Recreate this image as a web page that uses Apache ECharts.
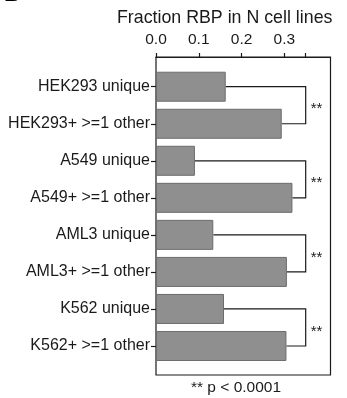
<!DOCTYPE html>
<html>
<head>
<meta charset="utf-8">
<script src="https://cdn.jsdelivr.net/npm/echarts@6/dist/echarts.min.js"></script>
<style>
html,body{margin:0;padding:0;background:#fff;}
#main{width:347px;height:398px;}
</style>
</head>
<body>
<div id="main"></div>
<script>
var categories = ['HEK293 unique', 'HEK293+ >=1 other', 'A549 unique', 'A549+ >=1 other',
	'AML3 unique', 'AML3+ >=1 other', 'K562 unique', 'K562+ >=1 other'];
var fractions = [0.163, 0.294, 0.091, 0.319, 0.134, 0.306, 0.159, 0.305];
var tickLabels = [0, 0.1, 0.2, 0.3];
var tickMarks = [0, 0.1, 0.2, 0.3, 0.35];
// pairs compared: [unique row, other row]
var pairs = [[0, 1], [2, 3], [4, 5], [6, 7]];
var bracketX = 0.35;
var sigLabel = '**';
var xMax = 0.408;

var fontFam = '"Liberation Sans", Arial, sans-serif';
var txt = '#1a1a1a';

var myChart = echarts.init(document.getElementById('main'));

var bracketData = pairs.map(function(p) {
	return [fractions[p[0]], fractions[p[1]], p[0], p[1]];
});

var option = {
	animation: false,
	title: [{
		text: 'Fraction RBP in N cell lines',
		left: 117, top: 9, padding: 0,
		textStyle: {fontSize: 17.8, fontWeight: 'normal', color: txt, fontFamily: fontFam}
	}, {
		text: '** p < 0.0001',
		left: 191, top: 380, padding: 0,
		textStyle: {fontSize: 15.5, fontWeight: 'normal', color: txt, fontFamily: fontFam}
	}],
	graphic: [{
		type: 'text', left: 4, top: -17,
		style: {text: 'B', font: 'bold 23px ' + fontFam, fill: '#000'}
	}],
	grid: [
		{left: 156, right: 16.5, top: 68.2, bottom: 33.5},
		{left: 156, right: 16.5, top: 57, bottom: 23, show: true,
			borderColor: '#1a1a1a', borderWidth: 1.2, backgroundColor: 'transparent'}
	],
	xAxis: [{
		gridIndex: 0, type: 'value', min: 0, max: xMax, show: false
	}, {
		gridIndex: 1, type: 'value', min: 0, max: xMax, position: 'top',
		axisLine: {show: true, onZero: false, lineStyle: {color: '#1a1a1a', width: 1.2}},
		splitLine: {show: false},
		axisTick: {show: true, length: 4, customValues: tickMarks,
			lineStyle: {color: '#1a1a1a', width: 1.2}},
		axisLabel: {customValues: tickLabels, margin: 9, fontSize: 15.5, color: txt, fontFamily: fontFam,
			formatter: function(v) { return v.toFixed(1); }}
	}],
	yAxis: [{
		gridIndex: 0, type: 'category', data: categories, inverse: true,
		axisLine: {show: false},
		axisTick: {show: true, alignWithLabel: true, length: 5,
			lineStyle: {color: '#1a1a1a', width: 1.2}},
		axisLabel: {margin: 6, fontSize: 16, color: txt, fontFamily: fontFam}
	}, {
		gridIndex: 1, type: 'value', show: false
	}],
	series: [{
		type: 'bar',
		xAxisIndex: 0, yAxisIndex: 0,
		data: fractions,
		barWidth: 30,
		itemStyle: {color: '#8f8f8f', borderColor: '#6c6c6c', borderWidth: 1}
	}, {
		type: 'custom',
		xAxisIndex: 0, yAxisIndex: 0,
		data: bracketData,
		encode: {x: [0, 1], y: [2, 3]},
		renderItem: function(params, api) {
			var a = api.coord([api.value(0), api.value(2)]);
			var b = api.coord([api.value(1), api.value(3)]);
			var bx = api.coord([bracketX, api.value(2)])[0];
			return {
				type: 'group',
				children: [{
					type: 'polyline',
					shape: {points: [[a[0], a[1]], [bx, a[1]], [bx, b[1]], [b[0], b[1]]]},
					style: {stroke: '#1a1a1a', lineWidth: 1.2, fill: null}
				}, {
					type: 'text',
					x: bx + 5, y: (a[1] + b[1]) / 2 + 4,
					style: {text: sigLabel, font: '15px ' + fontFam, fill: txt,
						textAlign: 'left', textVerticalAlign: 'middle'}
				}]
			};
		}
	}]
};
myChart.setOption(option);
</script>
</body>
</html>
